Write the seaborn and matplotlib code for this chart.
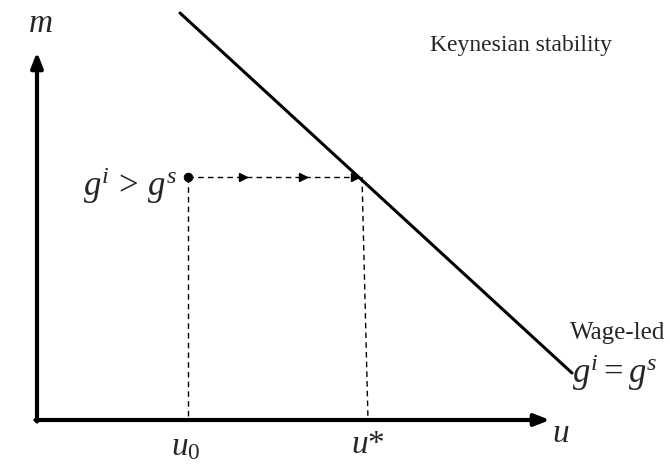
import numpy as np
import pandas as pd
import seaborn as sns
import matplotlib.pyplot as plt

sns.set_style("white")
plt.rcParams['font.family'] = ['Liberation Serif', 'DejaVu Serif']
plt.rcParams['mathtext.fontset'] = 'custom'
plt.rcParams['mathtext.rm'] = 'Liberation Serif'
plt.rcParams['mathtext.it'] = 'Liberation Serif:italic'

# diagram values (u on horizontal, m on vertical, origin at axes corner)
line_u = [143, 535]        # g^i = g^s locus
line_m = [407, 47]
u0 = 151
m0 = 243
ustar_top = 325
ustar_bottom = 331
flow_u = [206, 266, 318]   # direction arrows along the dashed path
u_axis_end = 513
m_axis_end = 368

line_df = pd.DataFrame({"u": line_u, "m": line_m})

fig = plt.figure(figsize=(6.7, 4.68), dpi=100)
ax = fig.add_axes([0, 0, 1, 1])
ax.set_xlim(-37, 633)
ax.set_ylim(-48, 420)
ax.axis("off")

# axes with arrows
ax.annotate("", xy=(u_axis_end, 0), xytext=(-1.5, 0),
            arrowprops=dict(arrowstyle="-|>,head_length=0.9,head_width=0.35", color="black", lw=3, shrinkA=0, shrinkB=0))
ax.annotate("", xy=(0, m_axis_end), xytext=(0, -1.5),
            arrowprops=dict(arrowstyle="-|>,head_length=0.9,head_width=0.35", color="black", lw=3, shrinkA=0, shrinkB=0))

# main locus
sns.lineplot(data=line_df, x="u", y="m", ax=ax, color="black", lw=2.2, sort=False)

# dashed adjustment path
ax.plot([u0, ustar_top], [m0, m0], color="black", lw=1, ls=(0, (4, 3)))
ax.plot([u0, u0], [m0, 0], color="black", lw=1, ls=(0, (4, 3)))
ax.plot([ustar_top, ustar_bottom], [m0, 0], color="black", lw=1, ls=(0, (4, 3)))
ax.plot(flow_u, [m0] * len(flow_u), ls="none", marker=">", ms=5.5, color="black")
sns.scatterplot(x=[u0], y=[m0], ax=ax, color="black", s=40, zorder=5, edgecolor="black")

# labels
ax.text(3, 396, "$m$", fontsize=24, ha="center", va="center")
ax.text(524, -14, "$u$", fontsize=24, ha="center", va="center")
ax.text(u0 - 2, -27, "$u_0$", fontsize=24, ha="center", va="center")
ax.text(ustar_bottom, -25, "$u$*", fontsize=24, ha="center", va="center")
ax.text(93, 234, r"$g^i\,>\,g^s$", fontsize=25, ha="center", va="center")
ax.text(393, 375, "Keynesian stability", fontsize=17, ha="left", va="center")
ax.text(533, 87, "Wage-led", fontsize=18, ha="left", va="center")
ax.text(535, 47, r"$g^i=g^s$", fontsize=25, ha="left", va="center")

fig.savefig("out.png", dpi=100, facecolor="white")
